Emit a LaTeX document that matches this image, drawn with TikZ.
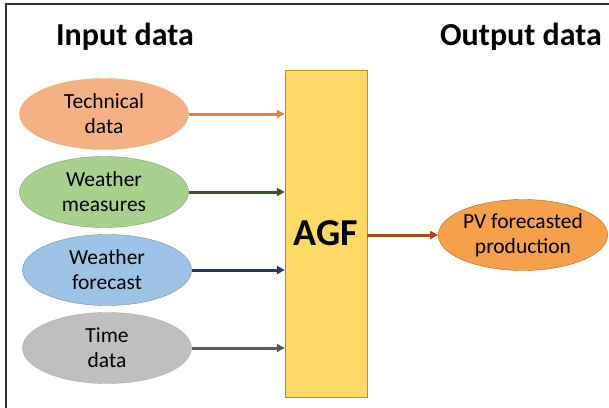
\documentclass[tikz,border=0pt]{standalone}
\usepackage{fontspec}
\setmainfont{Carlito}
\usetikzlibrary{shapes.geometric, positioning, arrows.meta}
\usepackage{color}
\definecolor{techfill}{RGB}{244, 177, 131}
\definecolor{techline}{RGB}{237, 125, 49}
\definecolor{measfill}{RGB}{169, 209, 142}
\definecolor{measline}{RGB}{56, 87, 35}
\definecolor{castfill}{RGB}{157, 195, 230}
\definecolor{castline}{RGB}{31, 56, 100}
\definecolor{timefill}{RGB}{191, 191, 191}
\definecolor{timeline}{RGB}{89, 89, 89}
\definecolor{agffill}{RGB}{255, 217, 102}
\definecolor{agfline}{RGB}{191, 144, 0}
\definecolor{pvfill}{RGB}{245, 160, 75}
\definecolor{pvline}{RGB}{197, 90, 17}
\definecolor{frame}{RGB}{50, 50, 50}

\begin{document}
\begin{tikzpicture}[x=1pt, y=-1pt, node distance=78pt, >={Triangle[length=8pt, width=8pt]},
    src/.style={draw, ellipse, minimum width=169pt, minimum height=71pt, inner sep=0pt, align=center, font=\fontsize{21.5}{25}\selectfont},
    feed/.style={->, line width=3pt},
    title/.style={font=\fontsize{32}{36}\selectfont\bfseries}]
    \useasboundingbox (0,0) rectangle (609,407);
    \draw[frame, line width=1.8pt] (6,4) rectangle (640,440);

    \node[title] (intitle) at (125,37) {Input data};
    \node[title] (outtitle) at (521,37) {Output data};

    \node[draw=agfline, fill=agffill, minimum width=82pt, minimum height=327pt, inner sep=0pt, font=\fontsize{38}{40}\selectfont\bfseries] (agf) at (326,233.5) {AGF};

    \node[src, draw=techline!70, fill=techfill] (tech) at (104,114) {Technical\\data};
    \node[src, draw=measline!60, fill=measfill, below of=tech] (meas) {Weather\\measures};
    \node[src, draw=castline!60, fill=castfill, below of=meas, xshift=3pt] (cast) {Weather\\forecast};
    \node[src, draw=timeline!50, fill=timefill, below of=cast] (time) {Time\\data};

    \node[src, draw=pvline, fill=pvfill] (pv) at (523,235) {PV forecasted\\production};

    \draw[feed, techline] (tech.east) -- (tech.east -| agf.west);
    \draw[feed, measline] (meas.east) -- (meas.east -| agf.west);
    \draw[feed, castline] (cast.east) -- (cast.east -| agf.west);
    \draw[feed, timeline] (time.east) -- (time.east -| agf.west);
    \draw[feed, pvline!85!black] (agf.east |- pv.west) -- (pv.west);
\end{tikzpicture}
\end{document}
